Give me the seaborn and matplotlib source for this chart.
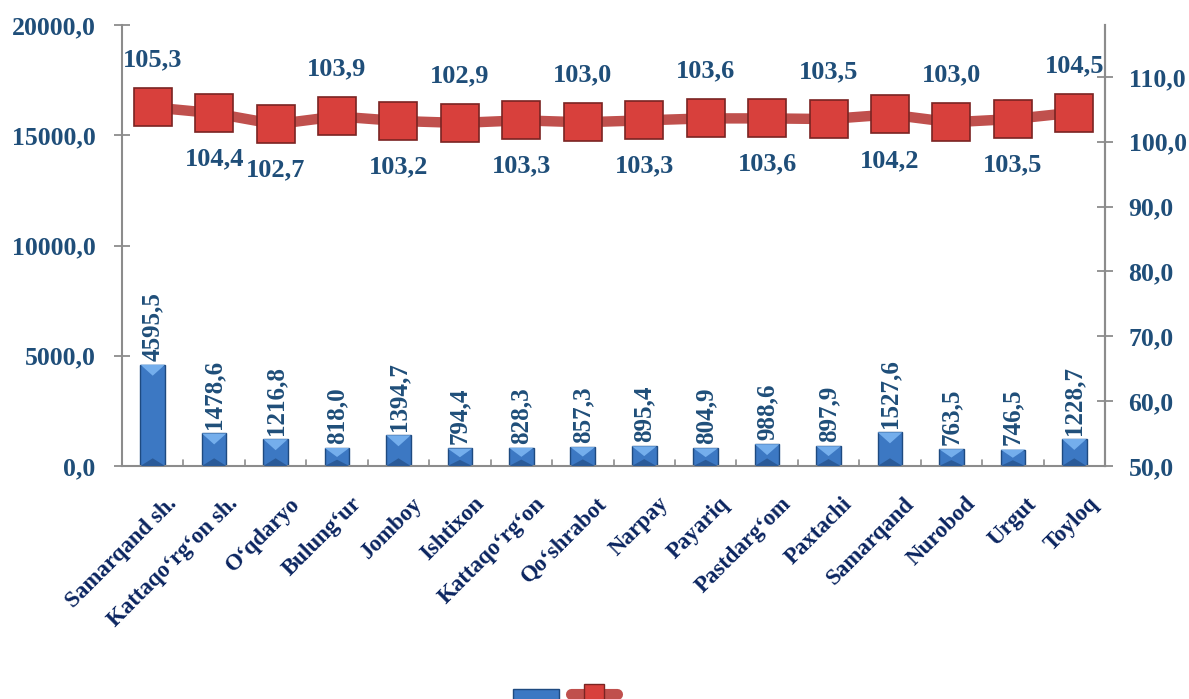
import numpy as np
import pandas as pd
import matplotlib
matplotlib.use("Agg")
import matplotlib.pyplot as plt
import seaborn as sns
from matplotlib.patches import Patch, Polygon
from matplotlib.lines import Line2D

districts = ["Samarqand sh.", "Kattaqo‘rg‘on sh.", "O‘qdaryo", "Bulung‘ur", "Jomboy",
             "Ishtixon", "Kattaqo‘rg‘on", "Qo‘shrabot", "Narpay", "Payariq",
             "Pastdarg‘om", "Paxtachi", "Samarqand", "Nurobod", "Urgut", "Toyloq"]
volume = [4595.5, 1478.6, 1216.8, 818.0, 1394.7, 794.4, 828.3, 857.3, 895.4, 804.9,
          988.6, 897.9, 1527.6, 763.5, 746.5, 1228.7]
growth = [105.3, 104.4, 102.7, 103.9, 103.2, 102.9, 103.3, 103.0, 103.3, 103.6,
          103.6, 103.5, 104.2, 103.0, 103.5, 104.5]
label_above = [True, False, False, True, False, True, False, True, False, True,
               False, True, False, True, False, True]
left_ticks = [0, 5000, 10000, 15000, 20000]
right_ticks = [50, 60, 70, 80, 90, 100, 110]

sns.set_theme(style="white")
plt.rcParams['font.family'] = ['Liberation Serif', 'DejaVu Serif']
plt.rcParams['font.weight'] = 'bold'

NAVY = "#1F4E79"
DARKNAVY = "#0B2560"
GRAY = "#8C8C8C"
BLUE = "#3C78C3"

df = pd.DataFrame({"district": districts, "volume": volume, "growth": growth})

fig = plt.figure(figsize=(11.89, 6.99), dpi=100)
ax = fig.add_axes([122/1189, 1-466/699, (1105-122)/1189, (466-25)/699])

sns.barplot(data=df, x="district", y="volume", ax=ax, color=BLUE,
            width=0.40, saturation=1, edgecolor="#1E4A80", linewidth=1.0, zorder=2)
ax.set_xlim(-0.5, len(districts) - 0.5)
ax.set_ylim(0, 20000)
ax.set_yticks(left_ticks)
ax.set_yticklabels([f"{v:.1f}".replace(".", ",") for v in left_ticks],
                   fontsize=18.5, fontweight="bold", color=NAVY)
ax.set_xlabel("")
ax.set_ylabel("")

# bevel shading derived from the drawn bar patches
for p in ax.patches:
    x0, y0 = p.get_x(), p.get_y()
    w, h = p.get_width(), p.get_height()
    bev = min(h * 0.5, 500)
    cx = x0 + w / 2
    top = Polygon([[x0, y0 + h], [x0 + w, y0 + h], [cx, y0 + h - bev]],
                  closed=True, facecolor="#74AEEC", edgecolor="none", zorder=3)
    bot = Polygon([[x0, y0], [x0 + w, y0], [cx, y0 + bev * 0.7]],
                  closed=True, facecolor="#2A5A98", edgecolor="none", zorder=3)
    ax.add_patch(top)
    ax.add_patch(bot)

for i, v in enumerate(volume):
    ax.annotate(f"{v:.1f}".replace(".", ","), (i, v), xytext=(0, 3),
                textcoords="offset points", rotation=90, ha="center", va="bottom",
                fontsize=18, fontweight="bold", color=NAVY, zorder=5)

ax.set_xticks(np.arange(len(districts)))
ax.set_xticklabels([])
ax.tick_params(axis="x", length=0)
for i, name in enumerate(districts):
    ax.annotate(name, (i, 0), xytext=(15, -25), textcoords="offset points",
                rotation=45, rotation_mode="anchor", ha="right", va="center",
                fontsize=16.5, fontweight="bold", color=DARKNAVY, annotation_clip=False)
for b in np.arange(0.5, len(districts) - 0.5, 1.0):
    ax.plot([b, b], [0, 280], color=GRAY, lw=1.2, zorder=1, clip_on=False)

ax.spines["top"].set_visible(False)
for s in ["left", "right", "bottom"]:
    ax.spines[s].set_color(GRAY)
    ax.spines[s].set_linewidth(1.5)
ax.tick_params(axis="y", direction="inout", length=12, width=1.3, color=GRAY, pad=13)
ax.grid(False)

ax2 = ax.twinx()
sns.lineplot(x=np.arange(len(districts)), y=growth, ax=ax2, color="#C0504D",
             lw=7.5, marker="s", markersize=27, markerfacecolor="#D8403C",
             markeredgecolor="#7A2422", markeredgewidth=1.2, zorder=4)
ax2.set_ylim(50, 118)
ax2.set_yticks(right_ticks)
ax2.set_yticklabels([f"{v:.1f}".replace(".", ",") for v in right_ticks],
                    fontsize=18.5, fontweight="bold", color=NAVY)
ax2.tick_params(axis="y", direction="inout", length=12, width=1.3, color=GRAY, pad=11)
ax2.set_ylabel("")
ax2.grid(False)
for s in ["top", "left", "bottom"]:
    ax2.spines[s].set_visible(False)
ax2.spines["right"].set_color(GRAY)
ax2.spines["right"].set_linewidth(1.5)

for i, v in enumerate(growth):
    off = 34 if label_above[i] else -33
    ax2.annotate(f"{v:.1f}".replace(".", ","), (i, v), xytext=(0, off),
                 textcoords="offset points", ha="center", va="center",
                 fontsize=19, fontweight="bold", color=NAVY)

handles = [Patch(facecolor=BLUE, edgecolor="#1E4A80"),
           Line2D([0], [0], color="#C0504D", lw=8, marker="s", markersize=14,
                  markerfacecolor="#D8403C", markeredgecolor="#7A2422")]
fig.legend(handles, ["", ""], loc="lower center", bbox_to_anchor=(0.475, -0.025),
           ncol=2, frameon=False, handlelength=3, handletextpad=0, columnspacing=0.8)

fig.savefig("out.png", dpi=100)
